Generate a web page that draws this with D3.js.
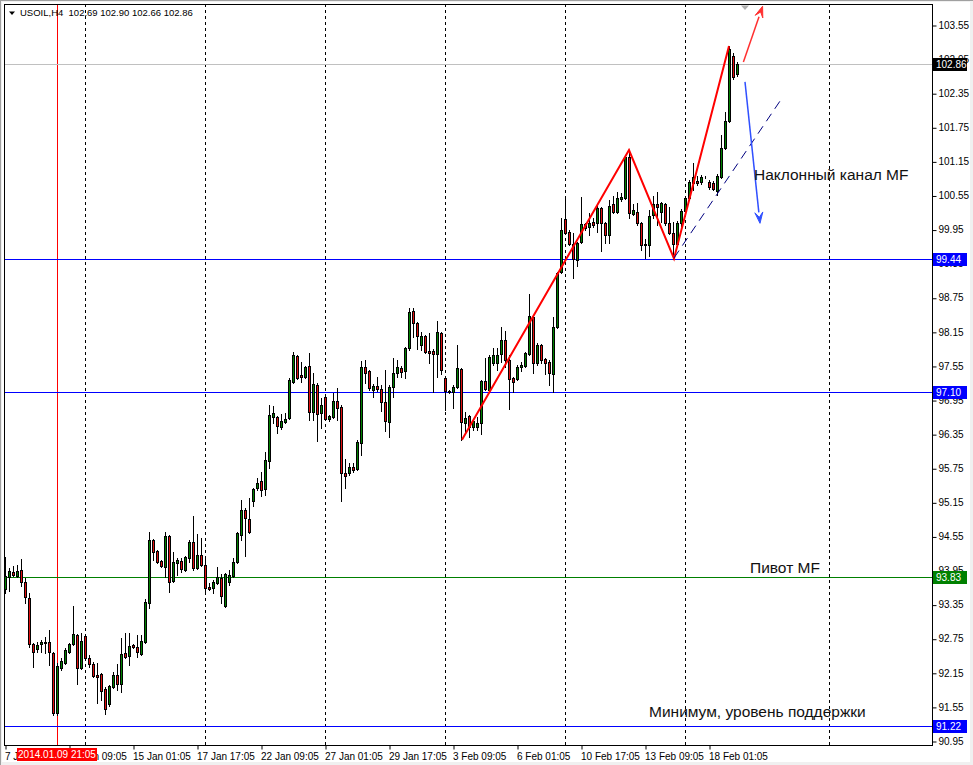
<!DOCTYPE html>
<html><head><meta charset="utf-8">
<script src="https://cdn.jsdelivr.net/npm/d3@7"></script>
<style>html,body{margin:0;padding:0;background:#fff;overflow:hidden}svg{display:block}</style>
</head><body>
<svg id="c" width="973" height="765"></svg>
<script>
// ---------- data (H4 candles, index 0 = 7 Jan 17:05) ----------
const opens = [93.63,93.84,93.93,93.86,93.96,93.75,93.47,92.66,92.57,92.66,92.69,92.69,92.50,91.44,92.24,92.32,92.52,92.66,92.82,92.24,
92.80,92.41,92.31,92.11,92.13,91.87,91.60,91.90,92.11,91.95,92.50,92.45,92.64,92.61,92.48,92.69,93.38,94.49,94.30,94.12,
94.01,94.56,93.77,94.08,94.12,93.96,94.17,94.45,94.00,94.23,94.05,93.66,93.64,93.73,93.82,93.33,93.75,93.86,94.10,94.58,
95.02,94.86,95.18,95.40,95.53,95.39,95.88,96.65,96.65,96.48,96.57,96.64,97.27,97.73,97.39,97.36,97.55,96.74,97.22,96.72,
97.01,96.62,96.65,96.94,96.83,95.67,95.67,95.77,95.74,96.20,97.53,97.46,97.13,97.20,97.15,96.92,96.57,97.18,97.43,97.52,
97.46,97.87,98.52,98.31,97.92,98.08,97.82,97.82,97.76,98.13,97.34,97.11,97.09,97.18,97.50,96.55,96.67,96.48,96.48,96.55,
97.29,97.13,97.60,97.60,97.76,98.01,97.66,97.34,97.32,97.53,97.55,97.76,98.41,97.60,97.92,97.67,97.62,97.41,98.24,99.21,
100.14,99.91,99.70,99.42,99.73,100.05,100.00,100.09,100.07,100.33,100.07,99.86,100.40,100.26,100.49,100.51,101.23,100.23,100.26,100.07,
99.70,99.68,100.21,100.40,100.26,100.40,100.07,99.89,99.70,100.07,100.28,100.51,100.77,100.81,100.79,100.88,100.79,100.77,100.63,100.88,
101.39,101.86,103.01,102.69];
const highs = [94.19,94.00,94.03,94.05,94.15,93.82,93.56,92.68,92.69,92.73,92.78,92.91,92.52,92.32,92.41,92.59,92.68,93.33,92.83,92.85,
92.82,92.46,92.34,92.32,92.15,91.90,91.94,92.17,92.31,92.76,92.85,92.85,92.66,92.82,92.82,93.45,94.63,94.51,94.31,94.14,
94.63,94.58,94.28,94.17,94.17,94.21,94.49,94.91,94.60,94.52,94.19,93.73,93.79,94.01,93.89,93.91,93.96,94.17,94.63,95.19,
95.05,95.23,95.40,95.58,95.69,96.04,96.87,96.85,96.67,96.71,96.72,97.34,97.80,97.75,97.62,97.55,97.78,97.43,97.25,96.99,
97.02,96.69,97.08,97.16,96.87,95.91,95.84,95.84,96.25,97.64,97.66,97.48,97.23,97.36,97.22,97.48,97.22,97.69,97.66,97.55,
97.89,98.57,98.57,98.33,98.15,98.10,98.13,97.85,98.34,98.15,97.36,97.13,97.22,97.92,97.52,96.74,96.69,96.60,96.65,97.30,
97.69,97.75,97.87,97.87,98.24,98.17,97.75,97.36,97.57,97.62,97.80,98.82,98.43,97.96,97.94,97.69,97.66,98.41,99.21,100.16,
100.54,99.94,99.89,99.73,100.53,100.07,100.24,100.16,100.39,100.35,100.09,100.47,100.54,100.61,100.60,101.27,101.35,100.40,100.42,100.09,
99.79,100.30,100.54,100.61,100.44,100.42,100.35,100.09,100.10,100.31,100.54,100.83,101.12,100.90,100.91,100.90,100.83,100.81,100.93,101.62,
102.02,103.18,103.06,102.90];
const lows = [93.56,93.59,93.86,93.84,93.68,93.38,92.61,92.25,92.52,92.52,92.50,92.29,91.41,91.41,92.20,92.31,92.50,92.64,91.95,92.22,
92.39,92.25,92.08,91.62,91.67,91.43,91.57,91.88,91.85,91.81,92.41,92.29,92.59,92.43,92.46,92.68,93.29,94.14,94.08,94.01,
93.84,93.57,93.75,93.87,93.93,93.94,94.10,93.96,93.98,94.03,93.56,93.61,93.56,93.71,93.38,93.31,93.70,93.84,94.08,94.49,
94.21,94.61,95.09,95.37,95.26,95.28,95.76,96.55,96.37,96.44,96.55,96.62,97.25,97.32,97.27,97.34,96.60,96.60,96.23,96.46,
96.60,96.58,96.64,96.60,95.18,95.40,95.63,95.69,95.72,95.99,97.25,97.13,97.01,97.11,96.76,96.41,96.30,97.01,97.36,97.36,
97.34,97.83,98.06,97.85,97.83,97.78,97.60,97.09,97.36,97.41,96.78,97.08,96.81,97.16,96.25,96.39,96.30,96.42,96.42,96.36,
97.13,97.11,97.57,97.48,97.62,97.53,96.79,97.09,97.30,97.46,97.53,97.75,97.43,97.57,97.60,97.41,97.22,97.09,98.22,99.19,
99.88,99.68,99.10,99.31,99.72,99.94,99.86,100.00,99.91,99.58,99.72,99.72,100.24,100.24,100.46,100.49,100.16,100.21,100.03,99.59,
99.45,99.49,100.16,100.03,100.09,100.03,99.87,99.44,99.66,100.02,100.24,100.47,100.65,100.74,100.75,100.86,100.67,100.65,100.56,100.86,
101.37,101.85,102.60,102.66];
const closes = [93.86,93.94,93.87,93.94,93.75,93.49,92.66,92.52,92.64,92.69,92.68,92.52,91.44,92.27,92.36,92.55,92.66,92.83,92.24,92.71,
92.41,92.31,92.10,92.08,91.83,91.51,91.92,92.11,91.95,92.48,92.43,92.62,92.61,92.52,92.71,93.40,94.49,94.28,94.10,94.03,
94.56,93.75,94.10,94.14,93.98,94.19,94.45,94.00,94.23,94.05,93.64,93.63,93.75,93.84,93.50,93.89,93.87,94.10,94.61,95.02,
94.88,94.63,95.39,95.49,95.37,95.90,96.69,96.72,96.50,96.58,96.62,97.31,97.75,97.34,97.36,97.53,96.74,97.23,96.71,96.87,
96.62,96.67,96.94,96.81,95.67,95.62,95.77,95.72,96.21,97.53,97.43,97.16,97.20,97.15,96.92,96.58,97.18,97.43,97.53,97.45,
97.87,98.50,98.31,98.08,98.08,97.80,97.78,97.76,98.15,97.48,97.11,97.09,97.18,97.52,96.57,96.64,96.48,96.58,96.55,97.29,
97.15,97.71,97.75,97.75,98.01,97.66,97.32,97.27,97.53,97.57,97.78,98.43,97.60,97.92,97.66,97.60,97.43,98.24,99.19,99.95,
99.89,99.70,99.43,99.72,100.05,99.98,100.07,100.03,100.33,100.07,99.86,100.37,100.26,100.51,100.53,101.23,100.24,100.30,100.07,99.68,
99.68,100.19,100.40,100.35,100.42,100.07,99.89,99.70,100.07,100.28,100.51,100.79,100.88,100.77,100.88,100.87,100.70,100.67,100.89,101.39,
101.86,103.13,102.64,102.86];

const priceTicks = [90.95,91.55,92.15,92.75,93.35,93.95,94.55,95.15,95.75,96.35,96.95,97.55,98.15,98.75,99.35,99.95,100.55,101.15,101.75,102.35,102.95,103.55];
const timeLabelIdx = [0,16,32,48,64,80,96,112,128,144,160,176];
const timeLabels = ["7 Jan 17:05","10 Jan 09:05","15 Jan 01:05","17 Jan 17:05","22 Jan 09:05","27 Jan 01:05","29 Jan 17:05","3 Feb 09:05","6 Feb 01:05","10 Feb 17:05","13 Feb 09:05","18 Feb 01:05"];
const gridIdx = [20,50,80,110,140,170,206];
const levelPrices = [102.86, 99.44, 97.10, 93.83, 91.22];
const levelKinds = ["bid","blue","blue","green","blue"];
const zigzagIdx = [114.25, 156, 167.25, 181];
const zigzagPrices = [96.25, 101.35, 99.44, 103.18];
const upArrowIdx = [184.6, 189.4], upArrowPrices = [102.90, 103.88];
const downArrowIdx = [185, 188.75], downArrowPrices = [102.55, 100.06];
const channelIdx = [167.25, 194.5], channelPrices = [99.45, 102.29];
const noteTexts = ["Наклонный канал MF", "Пивот MF", "Минимум, уровень поддержки"];
const noteIdx = [187.25, 186.25, 161];
const notePrices = [100.82, 93.90, 91.37];
const crosshairIdx = 13, crosshairLabel = "2014.01.09 21:05";
const headerText = "USOIL,H4  102.69 102.90 102.66 102.86";

// ---------- drawing ----------
const W = 973, H = 765;
const L = 4, R = 932, T = 4, B = 745;
const svg = d3.select("#c");
const FONT = "'Liberation Sans', Arial, sans-serif";

const x = d3.scaleLinear().domain([0, 183]).range([5, 737]);
const y = d3.scaleLinear().domain([90.95, 103.55]).range([741, 25]);
const px = v => Math.round(x(v));
const py = v => Math.round(y(v));

// window frame
svg.append("rect").attr("x",0).attr("y",0).attr("width",W).attr("height",H).attr("fill","#f0f0f0");
svg.append("rect").attr("x",2).attr("y",2).attr("width",968).attr("height",760).attr("fill","#fff");
svg.append("line").attr("x1",0).attr("x2",W).attr("y1",0.5).attr("y2",0.5).attr("stroke","#a0a0a0");
svg.append("line").attr("x1",0.5).attr("x2",0.5).attr("y1",0).attr("y2",H).attr("stroke","#a0a0a0");

const plot = svg.append("g");
svg.append("defs").append("clipPath").attr("id","pc").append("rect")
  .attr("x",L).attr("y",T).attr("width",R-L).attr("height",B-T);
plot.attr("clip-path","url(#pc)");

// vertical dashed grid
plot.selectAll("line.grid").data(gridIdx).join("line")
  .attr("x1",d=>px(d)+0.5).attr("x2",d=>px(d)+0.5)
  .attr("y1",T).attr("y2",B)
  .attr("stroke","#000").attr("stroke-width",1).attr("stroke-dasharray","3,3");

// crosshair vertical
plot.append("line").attr("x1",px(crosshairIdx)+0.5).attr("x2",px(crosshairIdx)+0.5)
  .attr("y1",T).attr("y2",B).attr("stroke","#ff0000").attr("stroke-width",1);

// horizontal levels
const levelStroke = k => k==="bid" ? "#c0c0c0" : k==="green" ? "#008000" : "#0000ff";
plot.selectAll("line.lvl").data(levelPrices).join("line")
  .attr("x1",L).attr("x2",R)
  .attr("y1",d=>py(d)+0.5).attr("y2",d=>py(d)+0.5)
  .attr("stroke",(d,i)=>levelStroke(levelKinds[i])).attr("stroke-width",1);

// candles
const idx = d3.range(opens.length);
const cg = plot.append("g");
cg.selectAll("line.wick").data(idx).join("line")
  .attr("x1",i=>px(i)+0.5).attr("x2",i=>px(i)+0.5)
  .attr("y1",i=>py(highs[i])).attr("y2",i=>py(lows[i])+1)
  .attr("stroke","#000").attr("stroke-width",1);
cg.selectAll("rect.body").data(idx).join("rect")
  .attr("x",i=>px(i)-0.5)
  .attr("y",i=>py(Math.max(opens[i],closes[i]))+0.5)
  .attr("width",2)
  .attr("height",i=>Math.max(0, py(Math.min(opens[i],closes[i])) - py(Math.max(opens[i],closes[i]))))
  .attr("fill",i=>closes[i]>=opens[i] ? "#008000" : "#e01010")
  .attr("stroke","#000").attr("stroke-width",1);

// zigzag
const lineGen = d3.line().x(d=>x(d[0])).y(d=>y(d[1]));
plot.append("path").attr("d",lineGen(zigzagIdx.map((d,i)=>[d,zigzagPrices[i]])))
  .attr("fill","none").attr("stroke","#ff0000").attr("stroke-width",2);

// channel dashed line
plot.append("path").attr("d",lineGen(channelIdx.map((d,i)=>[d,channelPrices[i]])))
  .attr("fill","none").attr("stroke","#000080").attr("stroke-width",1).attr("stroke-dasharray","9,6");

// arrows
function arrow(ix, pr, color){
  const x1=x(ix[0]), y1=y(pr[0]), x2=x(ix[1]), y2=y(pr[1]);
  const a = Math.atan2(y2-y1, x2-x1);
  const len = 11, hw = 4;
  const bx = x2 - len*Math.cos(a), by = y2 - len*Math.sin(a);
  plot.append("line").attr("x1",x1).attr("y1",y1).attr("x2",bx).attr("y2",by)
    .attr("stroke",color).attr("stroke-width",1.5);
  const p1 = [bx + hw*Math.sin(a), by - hw*Math.cos(a)];
  const p2 = [bx - hw*Math.sin(a), by + hw*Math.cos(a)];
  const p3 = [x2 - (len*0.55)*Math.cos(a), y2 - (len*0.55)*Math.sin(a)];
  plot.append("path").attr("d",`M${x2},${y2}L${p1}L${p3}L${p2}Z`)
    .attr("fill",color).attr("stroke",color).attr("stroke-width",1);
}
arrow(upArrowIdx, upArrowPrices, "#ff3030");
arrow(downArrowIdx, downArrowPrices, "#3050ff");

// notes
plot.selectAll("text.note").data(noteTexts).join("text")
  .attr("x",(d,i)=>x(noteIdx[i])).attr("y",(d,i)=>y(notePrices[i]))
  .attr("font-family",FONT).attr("font-size",15.5).attr("fill","#111")
  .text(d=>d);

// shift marker
svg.append("path").attr("d",`M${x(185)-4},${T+1.5}L${x(185)+4},${T+1.5}L${x(185)},${T+6}Z`).attr("fill","#b0b0b0");

// frame
svg.append("rect").attr("x",L+0.5).attr("y",T+0.5).attr("width",R-L).attr("height",B-T)
  .attr("fill","none").attr("stroke","#000").attr("stroke-width",1);

// right price axis
const yAxis = d3.axisRight(y).tickValues(priceTicks).tickFormat(d3.format(".2f")).tickSize(4).tickPadding(2);
const ya = svg.append("g").attr("transform",`translate(${R+0.5},0)`).call(yAxis);
ya.select(".domain").remove();
ya.selectAll(".tick line").attr("stroke","#000").attr("transform","translate(0,0.5)");
ya.selectAll(".tick text").attr("font-family",FONT).attr("font-size",10).attr("fill","#000");

// level labels
const lblFill = k => k==="bid" ? "#000" : k==="green" ? "#008000" : "#0000ff";
const lg = svg.append("g");
lg.selectAll("rect").data(levelPrices).join("rect")
  .attr("x",R+1).attr("y",d=>py(d)-6).attr("width",34).attr("height",13)
  .attr("fill",(d,i)=>lblFill(levelKinds[i]));
lg.selectAll("text").data(levelPrices).join("text")
  .attr("x",R+4).attr("y",d=>py(d)+4)
  .attr("font-family",FONT).attr("font-size",10).attr("fill","#fff")
  .text(d=>d3.format(".2f")(d));

// bottom time axis
const xAxis = d3.axisBottom(x).tickValues(timeLabelIdx).tickFormat((d,i)=>timeLabels[i]).tickSize(4).tickPadding(3);
const xa = svg.append("g").attr("transform",`translate(0.5,${B+0.5})`).call(xAxis);
xa.select(".domain").remove();
xa.selectAll(".tick line").attr("stroke","#000");
xa.selectAll(".tick text").attr("font-family",FONT).attr("font-size",10).attr("fill","#000")
  .attr("text-anchor","start").attr("x",-1);

// crosshair time label
const cx0 = px(crosshairIdx);
svg.append("rect").attr("x",cx0-40).attr("y",B+3).attr("width",80).attr("height",13).attr("fill","#ff0000");
svg.append("text").attr("x",cx0).attr("y",B+13).attr("text-anchor","middle")
  .attr("font-family",FONT).attr("font-size",10).attr("fill","#fff").text(crosshairLabel);

// header
svg.append("path").attr("d","M9,11.5L15,11.5L12,15Z").attr("fill","#000");
svg.append("text").attr("x",20).attr("y",16).attr("font-family",FONT).attr("font-size",9.5)
  .attr("fill","#000").attr("xml:space","preserve").style("white-space","pre").text(headerText);
</script>
</body></html>
